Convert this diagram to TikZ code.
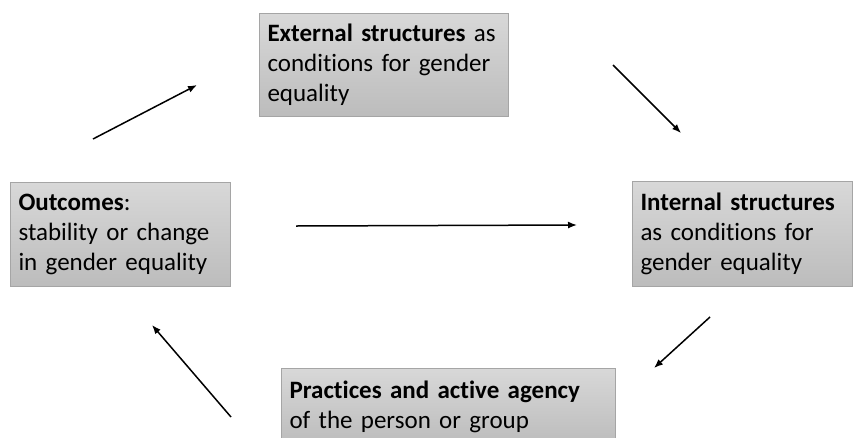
\documentclass[tikz,border=0pt]{standalone}
\usepackage{fontspec}
\setmainfont{Carlito}[Ligatures=NoCommon]
\usetikzlibrary{arrows.meta}
\definecolor{boxtop}{RGB}{216,216,216}
\definecolor{boxbot}{RGB}{188,188,188}
\definecolor{boxline}{RGB}{165,165,165}
\begin{document}
\begin{tikzpicture}[x=1pt,y=-1pt,
  infobox/.style={draw=boxline, line width=1pt, top color=boxtop, bottom color=boxbot,
    anchor=north west, align=left, inner xsep=8pt, inner ysep=0pt,
    font=\fontsize{25}{30}\selectfont},
  flow/.style={line width=1.5pt, -{Latex[length=9pt,width=7pt]}}]
\clip (0,0) rectangle (854,437);
\fill[white] (0,0) rectangle (854,437);

% the four condition boxes
\node[infobox, text width=233pt, minimum height=103pt] (ext) at (259,13)
  {\textbf{External structures} as\\conditions for gender\\equality};
\node[infobox, text width=204pt, minimum height=104pt] (out) at (10,182)
  {\textbf{Outcomes}:\\stability or change\\in gender equality};
\node[infobox, text width=204pt, minimum height=105pt] (int) at (632,181)
  {\textbf{Internal structures}\\as conditions for\\gender equality};
\node[infobox, text width=318pt, minimum height=76pt] (prac) at (281,368)
  {\textbf{Practices and active agency}\\of the person or group};

% free-standing cycle arrows
\coordinate (a1s) at (93,139);  \coordinate (a1e) at (197,85);
\coordinate (a2s) at (613,65);  \coordinate (a2e) at (681,133);
\coordinate (a3s) at (296,226); \coordinate (a3e) at (577,225);
\coordinate (a4s) at (710,317); \coordinate (a4e) at (654,368);
\coordinate (a5s) at (231,417); \coordinate (a5e) at (152,325);
\draw[flow] (a1s) -- (a1e);
\draw[flow] (a2s) -- (a2e);
\draw[flow] (a3s) -- (a3e);
\draw[flow] (a4s) -- (a4e);
\draw[flow] (a5s) -- (a5e);
\end{tikzpicture}
\end{document}
